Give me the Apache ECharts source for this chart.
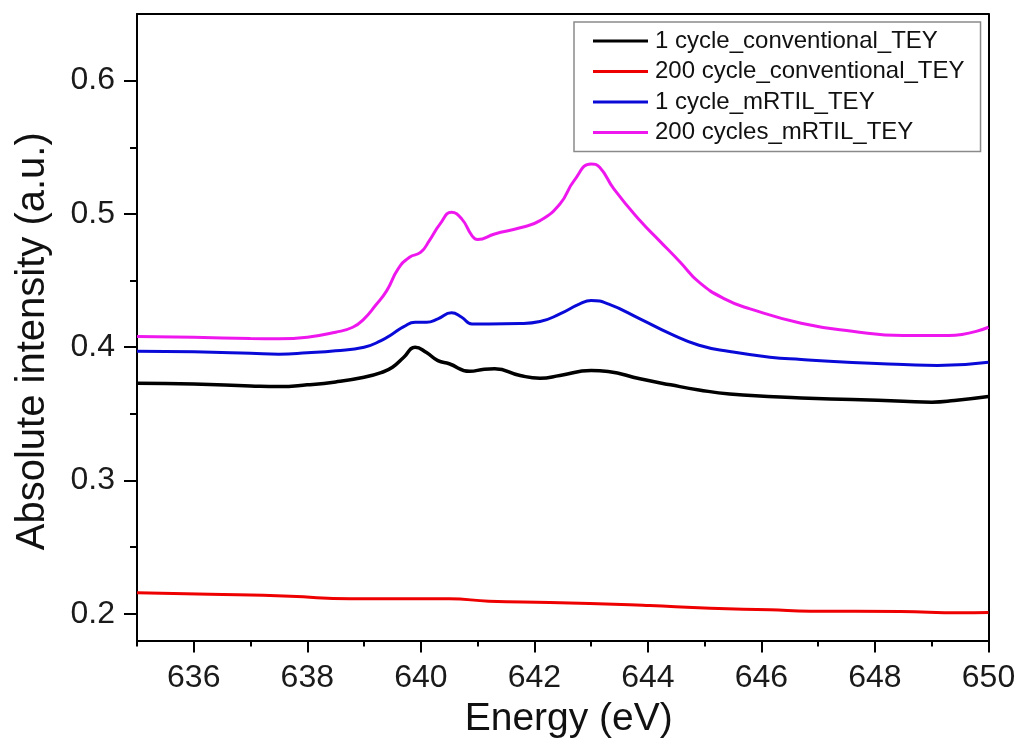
<!DOCTYPE html>
<html>
<head>
<meta charset="utf-8">
<script src="https://cdn.jsdelivr.net/npm/echarts@6/dist/echarts.min.js"></script>
<style>
  html, body { margin: 0; padding: 0; background: #ffffff; }
  #chart { width: 1020px; height: 750px; }
</style>
</head>
<body>
<div id="chart"></div>
<script>
// Mn L-edge XAS, total electron yield
const seriesNames = [
  '1 cycle_conventional_TEY',
  '200 cycle_conventional_TEY',
  '1 cycle_mRTIL_TEY',
  '200 cycles_mRTIL_TEY'
];

const conv1E = [635, 636, 637, 637.5, 638, 638.5, 639, 639.3, 639.5, 639.7, 639.9, 640.1, 640.3, 640.5, 640.86, 641.12, 641.3, 641.75, 642.1, 642.45, 643.0, 643.3, 643.86, 644.4, 644.9, 645.44, 646.7, 647.6, 648.5, 649.0, 649.4, 650];
const conv1V = [0.373, 0.3725, 0.371, 0.3705, 0.3718, 0.374, 0.3775, 0.381, 0.385, 0.3925, 0.400, 0.396, 0.390, 0.3876, 0.382, 0.3835, 0.3838, 0.3788, 0.3768, 0.3788, 0.3825, 0.3818, 0.3763, 0.3718, 0.368, 0.365, 0.362, 0.3608, 0.3595, 0.3588, 0.360, 0.363];

const conv200E = [635, 636.28, 637.7, 638.75, 640.5, 641.2, 642.27, 643.68, 644.03, 645.1, 646.15, 646.86, 648.45, 649.5, 650];
const conv200V = [0.2158, 0.2147, 0.2132, 0.2113, 0.2113, 0.2095, 0.2085, 0.2068, 0.2062, 0.2042, 0.203, 0.202, 0.2017, 0.2008, 0.201];

const mrtil1E = [635, 636, 637, 637.5, 638, 638.5, 639, 639.3, 639.5, 639.7, 639.9, 640.1, 640.3, 640.54, 640.72, 640.9, 641.2, 641.75, 642.1, 642.45, 642.8, 643.0, 643.3, 643.86, 644.4, 644.9, 645.44, 646.15, 646.7, 647.6, 648.5, 649.1, 650];
const mrtil1V = [0.397, 0.3966, 0.3955, 0.3948, 0.3958, 0.3973, 0.400, 0.405, 0.410, 0.4155, 0.4188, 0.4188, 0.4213, 0.4258, 0.4225, 0.4175, 0.4175, 0.4178, 0.4193, 0.425, 0.4325, 0.435, 0.4325, 0.4213, 0.410, 0.4015, 0.3968, 0.3925, 0.3908, 0.3885, 0.387, 0.3863, 0.3888];

const mrtil200E = [635, 636, 637, 637.5, 638, 638.5, 638.8, 639, 639.2, 639.4, 639.6, 639.8, 640.0, 640.15, 640.34, 640.54, 640.72, 640.9, 641.0, 641.3, 641.75, 642.1, 642.45, 642.7, 643.0, 643.15, 643.4, 643.86, 644.2, 644.57, 644.9, 645.35, 645.8, 646.7, 647.6, 648.5, 649.3, 650];
const mrtil200V = [0.408, 0.4075, 0.4065, 0.4063, 0.4075, 0.4113, 0.415, 0.4213, 0.4313, 0.4425, 0.4588, 0.4675, 0.4713, 0.480, 0.4925, 0.5013, 0.4963, 0.4838, 0.4808, 0.485, 0.4896, 0.495, 0.5075, 0.525, 0.5375, 0.535, 0.5188, 0.495, 0.480, 0.4638, 0.4488, 0.4363, 0.4288, 0.418, 0.412, 0.4088, 0.4088, 0.415];

const xMajorTicks = [636, 638, 640, 642, 644, 646, 648, 650];
const xMinorTicks = [635, 637, 639, 641, 643, 645, 647, 649];
const yMajorTicks = [0.2, 0.3, 0.4, 0.5, 0.6];
const yMinorTicks = [0.25, 0.35, 0.45, 0.55];

const seriesColors = ['#000000', '#ee0000', '#0a0ad8', '#ee18ee'];

const FONT = '"Liberation Sans", Arial, sans-serif';

function pairs(xs, ys) {
  return xs.map((x, i) => [x, ys[i]]);
}

const chart = echarts.init(document.getElementById('chart'), null, { renderer: 'canvas' });

const X_MIN = 635, X_MAX = 650, Y_MIN = 0.18, Y_MAX = 0.65;
const axisStroke = { color: '#000', width: 2 };

const option = {
  backgroundColor: '#ffffff',
  animation: false,
  grid: { left: 137, right: 31.5, top: 14, bottom: 109.5, show: false },
  legend: {
    orient: 'vertical',
    left: 574,
    top: 22,
    padding: [7, 16, 7, 19],
    itemGap: 6.5,
    itemWidth: 55,
    itemHeight: 3,
    icon: 'rect',
    borderColor: '#8a8a8a',
    borderWidth: 1.5,
    textStyle: { fontFamily: FONT, fontSize: 24, color: '#111', lineHeight: 22, padding: [0, 0, 0, 2] },
    data: seriesNames
  },
  xAxis: [
    {
      type: 'value', min: X_MIN, max: X_MAX, position: 'bottom',
      name: 'Energy (eV)', nameLocation: 'middle', nameGap: 50,
      nameTextStyle: { fontFamily: FONT, fontSize: 39, color: '#111', padding: [0, 0, 0, 12] },
      axisLine: { lineStyle: axisStroke },
      axisTick: { show: true, inside: false, length: 12, lineStyle: axisStroke, customValues: xMajorTicks },
      axisLabel: { fontFamily: FONT, fontSize: 32, color: '#1a1a1a', margin: 22, customValues: xMajorTicks },
      splitLine: { show: false }
    },
    {
      type: 'value', min: X_MIN, max: X_MAX, position: 'bottom',
      axisLine: { show: false },
      axisTick: { show: true, length: 6, lineStyle: axisStroke, customValues: xMinorTicks },
      axisLabel: { show: false },
      splitLine: { show: false }
    },
    {
      type: 'value', min: X_MIN, max: X_MAX, position: 'top',
      axisLine: { lineStyle: axisStroke },
      axisTick: { show: false },
      axisLabel: { show: false },
      splitLine: { show: false }
    }
  ],
  yAxis: [
    {
      type: 'value', min: Y_MIN, max: Y_MAX, position: 'left',
      name: 'Absolute intensity (a.u.)', nameLocation: 'middle', nameGap: 84,
      nameTextStyle: { fontFamily: FONT, fontSize: 40, color: '#111', padding: [0, 28, 0, 0] },
      axisLine: { lineStyle: axisStroke },
      axisTick: { show: true, length: 13, lineStyle: axisStroke, customValues: yMajorTicks },
      axisLabel: { fontFamily: FONT, fontSize: 32, color: '#1a1a1a', margin: 22, customValues: yMajorTicks,
        formatter: v => v.toFixed(1) },
      splitLine: { show: false }
    },
    {
      type: 'value', min: Y_MIN, max: Y_MAX, position: 'left',
      axisLine: { show: false },
      axisTick: { show: true, length: 7, lineStyle: axisStroke, customValues: yMinorTicks },
      axisLabel: { show: false },
      splitLine: { show: false }
    },
    {
      type: 'value', min: Y_MIN, max: Y_MAX, position: 'right',
      axisLine: { lineStyle: axisStroke },
      axisTick: { show: false },
      axisLabel: { show: false },
      splitLine: { show: false }
    }
  ],
  series: [
    [conv1E, conv1V, 3.5],
    [conv200E, conv200V, 3],
    [mrtil1E, mrtil1V, 3],
    [mrtil200E, mrtil200V, 3]
  ].map((s, i) => ({
    name: seriesNames[i],
    type: 'line',
    xAxisIndex: 0,
    yAxisIndex: 0,
    data: pairs(s[0], s[1]),
    smooth: 0.5,
    showSymbol: false,
    symbol: 'none',
    color: seriesColors[i],
    lineStyle: { color: seriesColors[i], width: s[2] },
    z: 3
  }))
};

chart.setOption(option);
</script>
</body>
</html>
